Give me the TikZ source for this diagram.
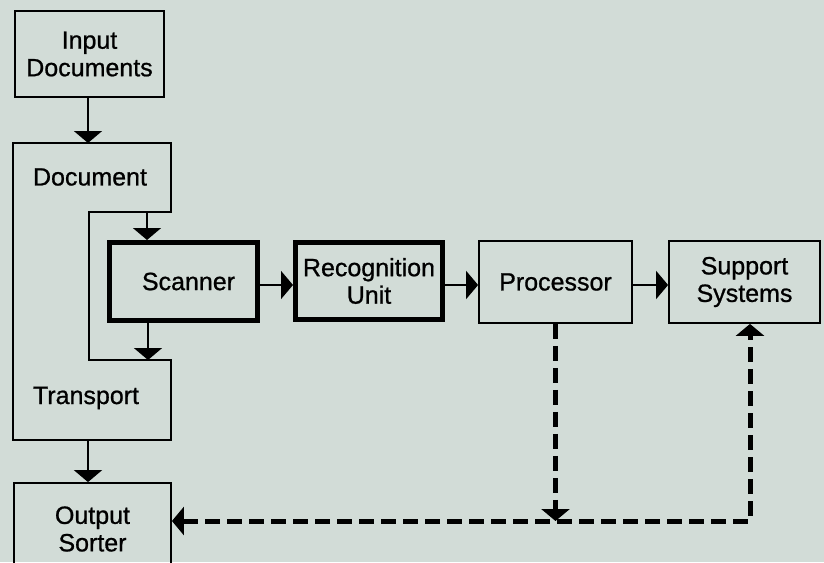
\documentclass[tikz,border=0pt]{standalone}
\usepackage{fontspec}
\setmainfont{Liberation Sans}[FakeBold=0.8]
\usetikzlibrary{arrows.meta}
\definecolor{bg}{RGB}{210,220,215}
\tikzset{
  x=1pt,y=-1pt,
  lbl/.style={font=\fontsize{25}{27.5}\selectfont, align=center, inner sep=0pt},
  thinbox/.style={draw=black, line width=1.8pt, inner sep=0pt, align=center, font=\fontsize{25}{27.5}\selectfont},
  thickbox/.style={draw=black, line width=5pt, inner sep=0pt, align=center, font=\fontsize{25}{27.5}\selectfont},
  flow/.style={line width=1.8pt, -{Triangle[width=28pt,length=12pt]}},
  dashflow/.style={line width=5pt, dash pattern=on 15pt off 7pt}
}
\begin{document}
\begin{tikzpicture}
\fill[bg] (0,0) rectangle (824,562);
\useasboundingbox (0,0) rectangle (824,562);
\clip (0,0) rectangle (824,562);

% boxes
\node[thinbox, minimum width=149pt, minimum height=86pt] (inp) at (89.5,54) {Input\\Documents};
\node[thickbox, minimum width=148pt, minimum height=78pt] (scan) at (183.5,281.5) {\hspace*{10pt}Scanner};
\node[thickbox, minimum width=147pt, minimum height=77pt] (rec) at (369,281) {Recognition\\Unit};
\node[thinbox, minimum width=153pt, minimum height=82pt] (proc) at (555.5,282) {Processor};
\node[thinbox, minimum width=151pt, minimum height=82pt] (sup) at (744.5,282) {Support\\Systems};
\node[thinbox, minimum width=157pt, minimum height=92pt] (out) at (92.5,529) {Output\\Sorter};

% document / transport outline
\coordinate (dt1) at (13,143);
\coordinate (dt2) at (171,143);
\coordinate (dt3) at (171,212);
\coordinate (dt4) at (89,212);
\coordinate (dt5) at (89,360);
\coordinate (dt6) at (171,360);
\coordinate (dt7) at (171,440);
\coordinate (dt8) at (13,440);
\draw[line width=1.8pt, line join=miter] (dt1) -- (dt2) -- (dt3) -- (dt4) -- (dt5) -- (dt6) -- (dt7) -- (dt8) -- cycle;
\node[lbl] (doc) at (90,177) {Document};
\node[lbl] (trans) at (86,398) {Transport};

% connection points
\coordinate (docin) at (88,143);
\coordinate (docout) at (147,212);
\coordinate (transin) at (148,360);
\coordinate (transout) at (88,440);
\coordinate (row) at (0,285);
\coordinate (dashrow) at (0,521);
\coordinate (corner) at (750,521);

% solid arrows
\draw[flow] (inp.south -| docin) -- (docin);
\draw[flow] (docout) -- (docout |- scan.north);
\draw[flow] (transin |- scan.south) -- (transin);
\draw[flow] (transout) -- (transout |- out.north);
\draw[flow] (scan.east |- row) -- (rec.west |- row);
\draw[flow] (rec.east |- row) -- (proc.west |- row);
\draw[flow] (proc.east |- row) -- (sup.west |- row);

% dashed arrows
\draw[dashflow, -{Triangle[width=28pt,length=12pt]}] (proc.south) -- (proc.south |- dashrow);
\draw[dashflow, {Triangle[width=28pt,length=12pt]}-{Triangle[width=28pt,length=12pt]}, line join=miter]
  (out.east |- dashrow) -- (corner) -- (corner |- sup.south);
\end{tikzpicture}
\end{document}
